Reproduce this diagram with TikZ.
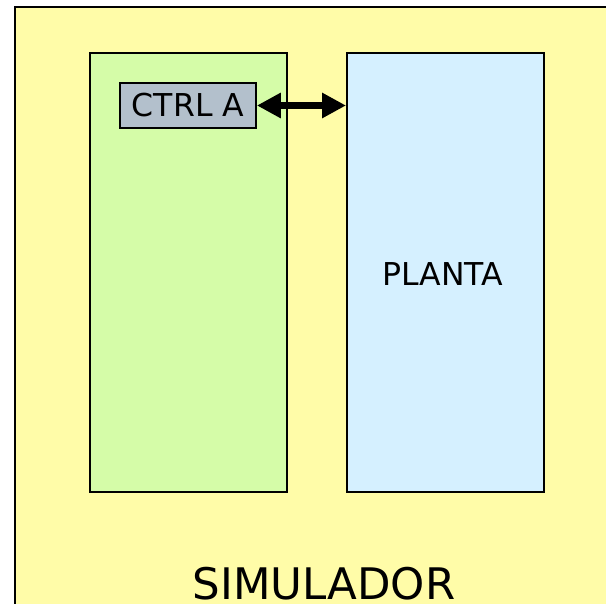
\documentclass[tikz,border=0pt]{standalone}
\usepackage{fontspec}
\setmainfont{DejaVu Sans}
\usetikzlibrary{arrows.meta}
\definecolor{simyellow}{HTML}{FFFCA8}
\definecolor{ctrlgreen}{HTML}{D5FCA8}
\definecolor{plantblue}{HTML}{D5F0FF}
\definecolor{ctrlgray}{HTML}{B3C0CC}
\tikzset{
  block/.style={draw=black, line width=1.8pt, inner sep=0pt, anchor=north west},
  lbl/.style={font=\fontsize{31.5}{31.5}\selectfont, inner sep=0pt},
}
\begin{document}
\begin{tikzpicture}[x=1pt,y=-1pt]
\useasboundingbox (0,0) rectangle (606,604);
\clip (0,0) rectangle (606,604);
\node[block, fill=simyellow, line width=2pt, minimum width=620pt, minimum height=620pt] (sim) at (14,6) {};
\node[block, fill=ctrlgreen, minimum width=197pt, minimum height=439pt] (green) at (89,52) {};
\node[block, fill=plantblue, minimum width=197pt, minimum height=439pt] (plant) at (346,52) {};
\node[lbl] (planta) at (443,274) {PLANTA};
\node[block, fill=ctrlgray, minimum width=136pt, minimum height=45pt, lbl, anchor=center] (ctrl) at (188,105.5) {CTRL A};
\coordinate (pl) at (plant.west |- ctrl.east);
\draw[line width=6.5pt, {Triangle[length=24pt,width=24pt]}-{Triangle[length=24pt,width=24pt]}] (ctrl.east) -- (pl);
\node[font=\fontsize{43.5}{43.5}\selectfont, inner sep=0pt, anchor=base] (simlbl) at (324,599) {SIMULADOR};
\end{tikzpicture}
\end{document}
